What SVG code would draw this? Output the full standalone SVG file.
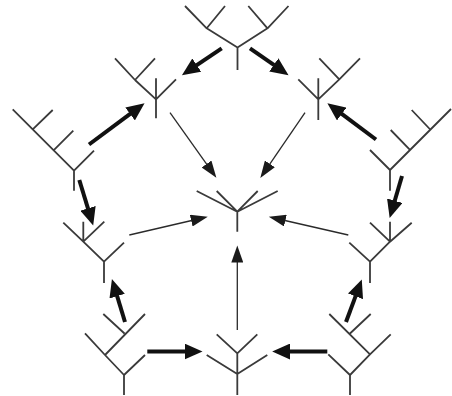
<svg xmlns="http://www.w3.org/2000/svg" width="452" height="396" viewBox="0 0 452 396">
<style>
.tree{fill:none;stroke:#3a3a3a;stroke-width:1.8;stroke-linecap:butt;stroke-linejoin:miter}
.thin{fill:none;stroke:#2a2a2a;stroke-width:1.3}
.thick{fill:none;stroke:#111;stroke-width:4}
</style>
<defs>
<marker id="hThin" markerUnits="userSpaceOnUse" markerWidth="18" markerHeight="12" refX="0.5" refY="6" orient="auto">
<path d="M0,0 L17,6 L0,12 Z" fill="#1a1a1a"/>
</marker>
<marker id="hThick" markerUnits="userSpaceOnUse" markerWidth="19" markerHeight="16" refX="0.5" refY="8" orient="auto">
<path d="M0,0 L18,8 L0,16 Z" fill="#111"/>
</marker>
</defs>
<rect width="452" height="396" fill="#fff"/>
<g id="tree-top" class="tree">
<path d="M237.5,70 V47.5 M237.5,47.5 L206.7,28.3 M206.7,28.3 L185,6 M206.7,28.3 L225,6 M237.5,47.5 L267.5,28.3 M267.5,28.3 L248.3,6 M267.5,28.3 L288.5,6"/>
</g>
<g id="tree-upper-left" class="tree">
<path d="M156,78.3 V118.3 M156,99.3 L135,80 M135,80 L115,58.3 M135,80 L155,58.3 M156,99.3 L176,79.3"/>
</g>
<g id="tree-upper-right" class="tree">
<path d="M318.3,78.3 V120 M318.3,99.3 L298.3,79.3 M318.3,99.3 L339.3,79.3 M339.3,79.3 L319.3,58.3 M339.3,79.3 L360,58.3"/>
</g>
<g id="tree-left" class="tree">
<path d="M12.7,109.3 L74,170.7 M32.7,129.3 L52.7,110 M53.3,150.7 L73.3,130.7 M74,170.7 L94,150.7 M74,170.7 V190.7"/>
</g>
<g id="tree-right" class="tree">
<path d="M451,109 L390,170 M430.7,130 L411.7,110 M410.7,150.7 L390.7,130 M390,170 L370,150 M390,170 V190.7"/>
</g>
<g id="tree-center" class="tree">
<path d="M237.3,211.7 L196.7,191 M237.3,211.7 L216.7,191 M237.3,211.7 L257.7,191 M237.3,211.7 L277.7,191 M237.3,211.7 V231.7"/>
</g>
<g id="tree-mid-left" class="tree">
<path d="M83.3,241.7 L63.3,222.7 M83.3,241.7 V221.7 M83.3,241.7 L104.3,221.7 M83.3,241.7 L104,261.7 M104,261.7 L124,242.7 M104,261.7 V283"/>
</g>
<g id="tree-mid-right" class="tree">
<path d="M390,241.7 L370,222.7 M390,241.7 V221.7 M390,241.7 L411.7,222.7 M390,241.7 L370,261.7 M370,261.7 L349.3,242.7 M370,261.7 V283"/>
</g>
<g id="tree-bottom-left" class="tree">
<path d="M124,375 V395 M124,375 L145,355 M124,375 L105,355 M105,355 L85,333.3 M105,355 L145,314 M124.5,333.5 L103.3,314"/>
</g>
<g id="tree-bottom-center" class="tree">
<path d="M237.3,353.3 V395 M237.3,374 L206.7,355 M237.3,374 L267.3,355 M237.3,353.3 L216.7,334.3 M237.3,353.3 L257.3,334.3"/>
</g>
<g id="tree-bottom-right" class="tree">
<path d="M350,375 V395 M350,375 L328.3,354.3 M350,375 L370,354.3 M370,354.3 L390.7,334.3 M370,354.3 L329.3,314 M350,333.5 L370.7,314"/>
</g>
<g id="connectors">
<path class="thick" marker-end="url(#hThick)" d="M221.7,48.3 L196.4,65.4"/>
<path class="thick" marker-end="url(#hThick)" d="M250,48.3 L274.2,65.2"/>
<path class="thick" marker-end="url(#hThick)" d="M89,144.5 L130.5,113.7"/>
<path class="thick" marker-end="url(#hThick)" d="M376,139.5 L341.4,113.7"/>
<path class="thick" marker-end="url(#hThick)" d="M79.3,180 L88.1,208.8"/>
<path class="thick" marker-end="url(#hThick)" d="M402,176 L394.6,201.2"/>
<path class="thick" marker-end="url(#hThick)" d="M125,322 L117,295.7"/>
<path class="thick" marker-end="url(#hThick)" d="M346,322 L355.7,295.9"/>
<path class="thick" marker-end="url(#hThick)" d="M147.3,351.5 L185,351.5"/>
<path class="thick" marker-end="url(#hThick)" d="M327.3,351.5 L289.7,351.5"/>
<path class="thin" marker-end="url(#hThin)" d="M170,112.7 L206.8,164.4"/>
<path class="thin" marker-end="url(#hThin)" d="M305,112.7 L269.6,164.3"/>
<path class="thin" marker-end="url(#hThin)" d="M129.3,235 L191.7,220.5"/>
<path class="thin" marker-end="url(#hThin)" d="M348.3,235 L284.9,220.5"/>
<path class="thin" marker-end="url(#hThin)" d="M237.3,330 L237.3,262"/>
</g>
</svg>
